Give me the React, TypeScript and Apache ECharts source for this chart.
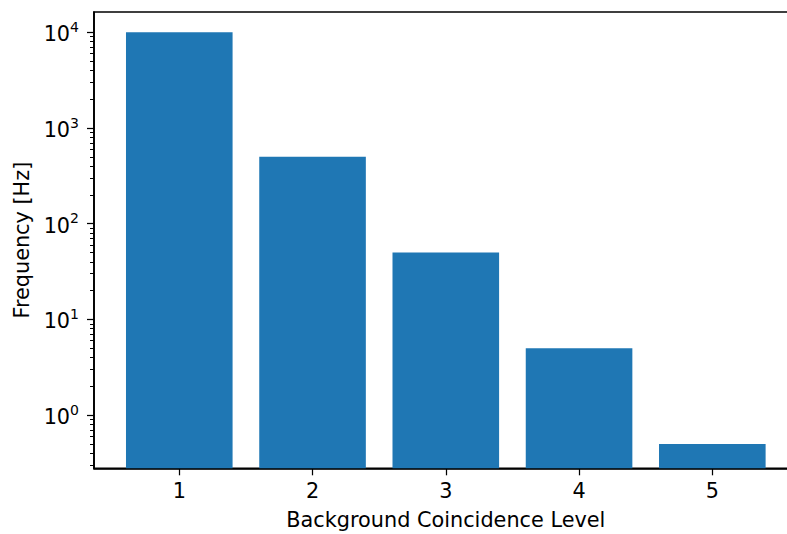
import React, { useEffect, useRef } from "react";
import * as echarts from "echarts";

const levels = [1, 2, 3, 4, 5];
const frequencies = [10000, 500, 50, 5, 0.5];
const majorTicks = [1, 10, 100, 1000, 10000];
const minorTicks = [
  0.3, 0.4, 0.5, 0.6, 0.7, 0.8, 0.9,
  2, 3, 4, 5, 6, 7, 8, 9,
  20, 30, 40, 50, 60, 70, 80, 90,
  200, 300, 400, 500, 600, 700, 800, 900,
  2000, 3000, 4000, 5000, 6000, 7000, 8000, 9000,
];
const xTitle = "Background Coincidence Level";
const yTitle = "Frequency [Hz]";

const FONT = "DejaVu Sans";
const FS = 20.8;
const YMIN = 0.278;
const YMAX = 16300;

export default function App() {
  const ref = useRef<HTMLDivElement>(null);
  useEffect(() => {
    if (!ref.current) return;
    const chart = echarts.init(ref.current, undefined, { renderer: "svg" });
    chart.setOption({
      animation: false,
      backgroundColor: "#ffffff",
      grid: {
        left: 94,
        top: 12,
        width: 703.6,
        height: 456.3,
        outerBoundsMode: "none",
        containLabel: false,
        show: true,
        borderColor: "#000000",
        borderWidth: 1.67,
        backgroundColor: "transparent",
      },
      xAxis: {
        type: "value",
        min: 0.36,
        max: 5.64,
        name: xTitle,
        nameLocation: "middle",
        nameGap: 41.5,
        nameTextStyle: { fontFamily: FONT, fontSize: FS, color: "#000" },
        axisLine: { show: true, lineStyle: { color: "#000", width: 1.67 } },
        axisTick: {
          show: true,
          length: 7,
          lineStyle: { color: "#000", width: 1.25 },
          customValues: levels,
        },
        axisLabel: {
          fontFamily: FONT,
          fontSize: FS,
          color: "#000",
          margin: 12,
          customValues: levels,
          formatter: (v: number) => String(v),
        },
        splitLine: { show: false },
      },
      yAxis: [
        {
          type: "log",
          logBase: 10,
          min: YMIN,
          max: YMAX,
          startValue: YMIN,
          name: yTitle,
          nameLocation: "middle",
          nameGap: 58,
          nameRotate: 90,
          nameTextStyle: { fontFamily: FONT, fontSize: FS, color: "#000" },
          axisLine: { show: true, lineStyle: { color: "#000", width: 1.67 } },
          axisTick: {
            show: true,
            length: 7,
            lineStyle: { color: "#000", width: 1.25 },
            customValues: majorTicks,
          },
          axisLabel: {
            margin: 15,
            customValues: majorTicks,
            formatter: (v: number) =>
              `{b|10}{s|${Math.round(Math.log10(v))}}`,
            rich: {
              b: {
                fontFamily: FONT,
                fontSize: FS,
                color: "#000",
                lineHeight: 25,
                verticalAlign: "bottom",
              },
              s: {
                fontFamily: FONT,
                fontSize: 14,
                color: "#000",
                lineHeight: 14,
                verticalAlign: "top",
              },
            },
          },
          splitLine: { show: false },
        },
        {
          type: "log",
          logBase: 10,
          min: YMIN,
          max: YMAX,
          position: "left",
          axisLine: { show: false },
          axisTick: {
            show: true,
            length: 4,
            lineStyle: { color: "#000", width: 1 },
            customValues: minorTicks,
          },
          axisLabel: { show: false },
          splitLine: { show: false },
        },
      ],
      series: [
        {
          type: "bar",
          xAxisIndex: 0,
          yAxisIndex: 0,
          barWidth: 106.6,
          itemStyle: { color: "#1f77b4" },
          data: levels.map((l, i) => [l, frequencies[i]]),
        },
      ],
    });
    return () => chart.dispose();
  }, []);
  return (
    <div
      ref={ref}
      style={{ position: "fixed", left: 0, top: 0, width: 787, height: 534 }}
    />
  );
}
